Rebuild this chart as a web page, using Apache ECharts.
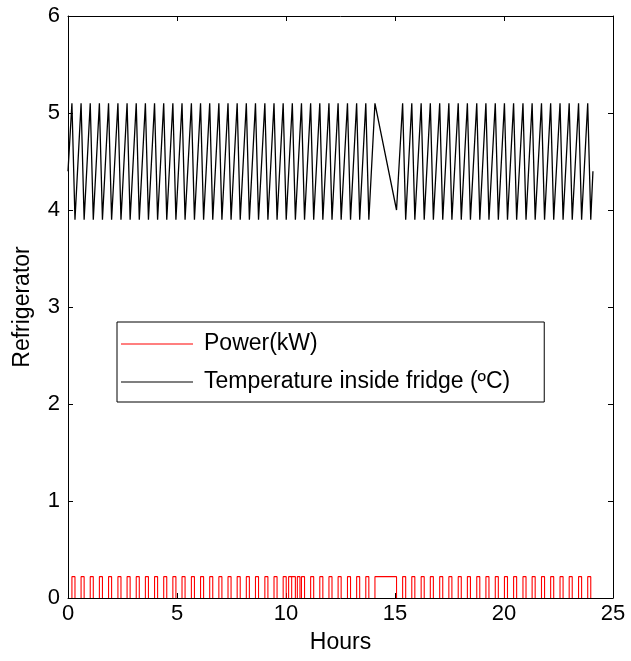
<!DOCTYPE html>
<html>
<head>
<meta charset="utf-8">
<script src="https://cdn.jsdelivr.net/npm/echarts@6/dist/echarts.min.js"></script>
<style>
html,body{margin:0;padding:0;background:#fff;}
#chart{width:631px;height:661px;}
</style>
</head>
<body>
<div id="chart"></div>
<script>
// Temperature inside fridge (ºC): vertex times (hours) and values
var tempTimes = [0,
  0.18,0.32, 0.60,0.74, 1.02,1.16, 1.44,1.58, 1.86,2.00, 2.29,2.43, 2.71,2.85, 3.13,3.27,
  3.55,3.69, 3.97,4.11, 4.39,4.53, 4.81,4.95, 5.23,5.37, 5.66,5.80, 6.08,6.22, 6.50,6.64,
  6.92,7.06, 7.34,7.48, 7.76,7.90, 8.18,8.32, 8.60,8.74, 9.03,9.17, 9.45,9.59, 9.87,10.01,
  10.29,10.43, 10.71,10.85, 11.13,11.27, 11.55,11.69, 11.97,12.11, 12.39,12.53, 12.82,12.96,
  13.24,13.38, 13.66,13.80,
  14.08, 15.07,
  15.35,15.49, 15.77,15.91, 16.20,16.34, 16.62,16.76, 17.05,17.19, 17.47,17.61, 17.90,18.04,
  18.32,18.46, 18.75,18.89, 19.17,19.31, 19.60,19.74, 20.02,20.16, 20.44,20.58, 20.87,21.01,
  21.29,21.43, 21.72,21.86, 22.14,22.28, 22.57,22.71, 22.99,23.13, 23.42,23.56, 23.84,23.98,
  24.08];
var tempValues = [4.4,
  5.1,3.9, 5.1,3.9, 5.1,3.9, 5.1,3.9, 5.1,3.9, 5.1,3.9, 5.1,3.9, 5.1,3.9,
  5.1,3.9, 5.1,3.9, 5.1,3.9, 5.1,3.9, 5.1,3.9, 5.1,3.9, 5.1,3.9, 5.1,3.9,
  5.1,3.9, 5.1,3.9, 5.1,3.9, 5.1,3.9, 5.1,3.9, 5.1,3.9, 5.1,3.9, 5.1,3.9,
  5.1,3.9, 5.1,3.9, 5.1,3.9, 5.1,3.9, 5.1,3.9, 5.1,3.9, 5.1,3.9,
  5.1,3.9, 5.1,3.9,
  5.1, 4.0,
  5.1,3.9, 5.1,3.9, 5.1,3.9, 5.1,3.9, 5.1,3.9, 5.1,3.9, 5.1,3.9,
  5.1,3.9, 5.1,3.9, 5.1,3.9, 5.1,3.9, 5.1,3.9, 5.1,3.9, 5.1,3.9,
  5.1,3.9, 5.1,3.9, 5.1,3.9, 5.1,3.9, 5.1,3.9, 5.1,3.9, 5.1,3.9,
  4.4];

// Power (kW): compressor on / off times (hours)
var powerOn = [0.18,0.60,1.02,1.44,1.86,2.29,2.71,3.13,3.55,3.97,4.39,4.81,5.23,5.66,6.08,6.50,
  6.92,7.34,7.76,8.18,8.60,9.03,9.45,9.87,10.12,10.26,10.52,10.71,11.13,11.55,11.97,12.39,12.82,
  13.24,13.66,14.08,
  15.35,15.77,16.20,16.62,17.05,17.47,17.90,18.32,18.75,19.17,19.60,20.02,20.44,20.87,21.29,
  21.72,22.14,22.57,22.99,23.42,23.84];
var powerOff = [0.32,0.74,1.16,1.58,2.00,2.43,2.85,3.27,3.69,4.11,4.53,4.95,5.37,5.80,6.22,6.64,
  7.06,7.48,7.90,8.32,8.74,9.17,9.59,10.01,10.26,10.43,10.64,10.85,11.27,11.69,12.11,12.53,12.96,
  13.38,13.80,15.07,
  15.49,15.91,16.34,16.76,17.19,17.61,18.04,18.46,18.89,19.31,19.74,20.16,20.58,21.01,21.43,
  21.86,22.28,22.71,23.13,23.56,23.98];
var powerLevel = 0.22;

var xTicks = {min: 0, max: 25, interval: 5};
var yTicks = {min: 0, max: 6, interval: 1};

var seriesNames = ['Power(kW)', 'Temperature inside fridge (ºC)'];
var xName = 'Hours';
var yName = 'Refrigerator';

// build series data
var tempData = [];
for (var i = 0; i < tempTimes.length; i++) tempData.push([tempTimes[i], tempValues[i]]);
var powerData = [];
for (var j = 0; j < powerOn.length; j++) {
  powerData.push([powerOn[j], 0]);
  powerData.push([powerOn[j], powerLevel]);
  powerData.push([powerOff[j], powerLevel]);
  powerData.push([powerOff[j], 0]);
  powerData.push(['-', '-']);
}

var FONT = '"Liberation Sans", Arial, Helvetica, sans-serif';

function xAxisDef(pos, labels) {
  return {
    type: 'value', position: pos, min: xTicks.min, max: xTicks.max, interval: xTicks.interval,
    name: labels ? xName : '', nameLocation: 'middle', nameGap: 33,
    nameTextStyle: {fontSize: 23, color: '#000', fontFamily: FONT},
    axisLine: {show: true, onZero: false, lineStyle: {color: '#000', width: 1}},
    axisTick: {show: true, inside: true, length: 5, lineStyle: {color: '#000'}},
    axisLabel: {show: labels, fontSize: 22, color: '#000', fontFamily: FONT, margin: 5},
    splitLine: {show: false}
  };
}
function yAxisDef(pos, labels) {
  return {
    type: 'value', position: pos, min: yTicks.min, max: yTicks.max, interval: yTicks.interval,
    name: labels ? yName : '', nameLocation: 'middle', nameGap: 34,
    nameTextStyle: {fontSize: 23, color: '#000', fontFamily: FONT},
    axisLine: {show: true, onZero: false, lineStyle: {color: '#000', width: 1}},
    axisTick: {show: true, inside: true, length: 5, lineStyle: {color: '#000'}},
    axisLabel: {show: labels, fontSize: 22, color: '#000', fontFamily: FONT, margin: 8},
    splitLine: {show: false}
  };
}

var chart = echarts.init(document.getElementById('chart'), null, {renderer: 'canvas'});
chart.setOption({
  animation: false,
  backgroundColor: '#fff',
  grid: {left: 68, right: 18, top: 16, bottom: 63, containLabel: false, outerBoundsMode: 'none'},
  xAxis: [xAxisDef('bottom', true), xAxisDef('top', false)],
  yAxis: [yAxisDef('left', true), yAxisDef('right', false)],
  legend: {
    orient: 'vertical', left: 117, top: 322,
    icon: 'rect', itemWidth: 72, itemHeight: 1, itemGap: 14,
    padding: [10, 34, 8, 4],
    borderColor: '#000', borderWidth: 1, backgroundColor: '#fff',
    textStyle: {fontSize: 23, color: '#000', fontFamily: FONT, lineHeight: 24, padding: [0, 0, 0, 6]},
    data: seriesNames
  },
  series: [
    {
      name: seriesNames[0], type: 'line', xAxisIndex: 0, yAxisIndex: 0,
      data: powerData, symbol: 'none', showSymbol: false, connectNulls: false,
      color: '#ff0000', lineStyle: {color: '#ff0000', width: 1.1}, z: 3
    },
    {
      name: seriesNames[1], type: 'line', xAxisIndex: 0, yAxisIndex: 0,
      data: tempData, symbol: 'none', showSymbol: false,
      color: '#000000', lineStyle: {color: '#000000', width: 1.3}, z: 2
    }
  ]
});
</script>
</body>
</html>
